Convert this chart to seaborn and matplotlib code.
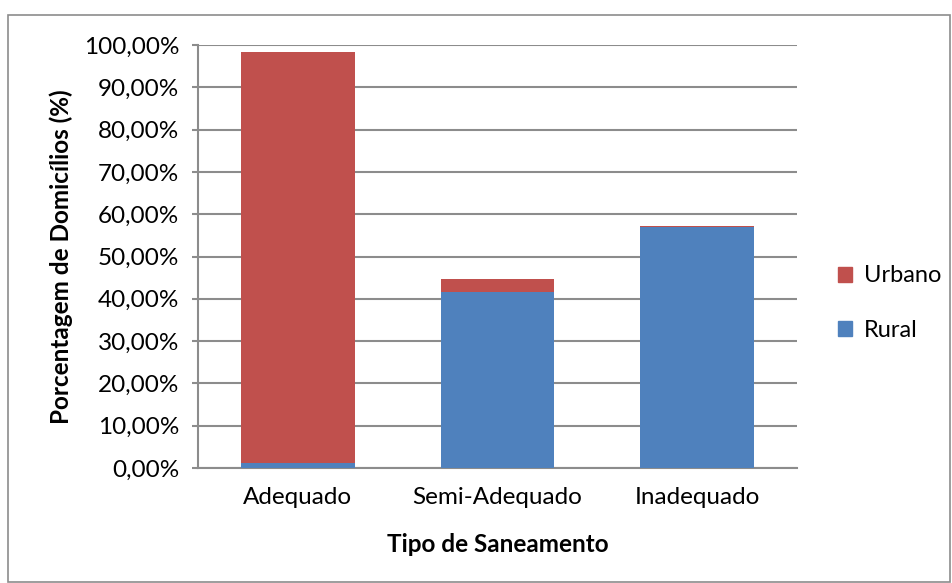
import matplotlib.pyplot as plt
import matplotlib.patches as mpatches
import seaborn as sns
import pandas as pd

categorias = ['Adequado', 'Semi-Adequado', 'Inadequado']
rural = [1.2, 41.6, 56.9]
urbano = [97.1, 3.0, 0.4]

df = pd.DataFrame({'tipo': categorias, 'rural': rural, 'urbano': urbano})
df['total'] = df['rural'] + df['urbano']

sns.set_style('white')
plt.rcParams['font.family'] = ['Lato', 'DejaVu Sans']
plt.rcParams['text.color'] = 'black'
plt.rcParams['axes.labelcolor'] = 'black'
plt.rcParams['xtick.color'] = 'black'
plt.rcParams['ytick.color'] = 'black'

fig = plt.figure(figsize=(9.53, 5.83), dpi=100)
ax = fig.add_axes([198 / 953, 1 - 468 / 583, 599 / 953, 423 / 583])

red = '#c0504d'
blue = '#4f81bd'
sns.barplot(data=df, x='tipo', y='total', color=red, width=0.57, saturation=1,
            linewidth=0, ax=ax, zorder=3)
sns.barplot(data=df, x='tipo', y='rural', color=blue, width=0.57, saturation=1,
            linewidth=0, ax=ax, zorder=3)

ax.set_ylim(0, 100)
ax.set_yticks(range(0, 101, 10))
ax.set_yticklabels([f'{v},00%' for v in range(0, 101, 10)], fontsize=17.5)
ax.tick_params(axis='x', labelsize=17.5, length=0, pad=14)
ax.tick_params(axis='y', length=4.5, width=1.5, color='#8c8c8c', direction='out', left=True,
               pad=9, labelcolor='black')
ax.yaxis.grid(True, color='#8c8c8c', linewidth=1.5, zorder=0)
ax.set_axisbelow(True)
for s in ['top', 'right']:
    ax.spines[s].set_visible(False)
for s in ['left', 'bottom']:
    ax.spines[s].set_color('#8c8c8c')
    ax.spines[s].set_linewidth(1.5)

ax.set_xlabel('Tipo de Saneamento', fontsize=17.5, fontweight='bold', labelpad=18)
ax.set_ylabel('Porcentagem de Domicílios (%)', fontsize=17.5, fontweight='bold', labelpad=8)

handles = [mpatches.Patch(color=red, label='Urbano'), mpatches.Patch(color=blue, label='Rural')]
fig.legend(handles=handles, loc='center left', bbox_to_anchor=(817 / 953, 1 - 303 / 583),
           frameon=False, fontsize=17, handlelength=0.6, handleheight=0.6,
           handletextpad=0.5, labelspacing=1.4)

fig.patches.append(mpatches.Rectangle((8 / 953, 0.002), 942 / 953, 1 - 15 / 583 - 0.002,
                                      transform=fig.transFigure, fill=False,
                                      edgecolor='#8c8c8c', linewidth=1.2))

fig.savefig('out.png', dpi=100)
